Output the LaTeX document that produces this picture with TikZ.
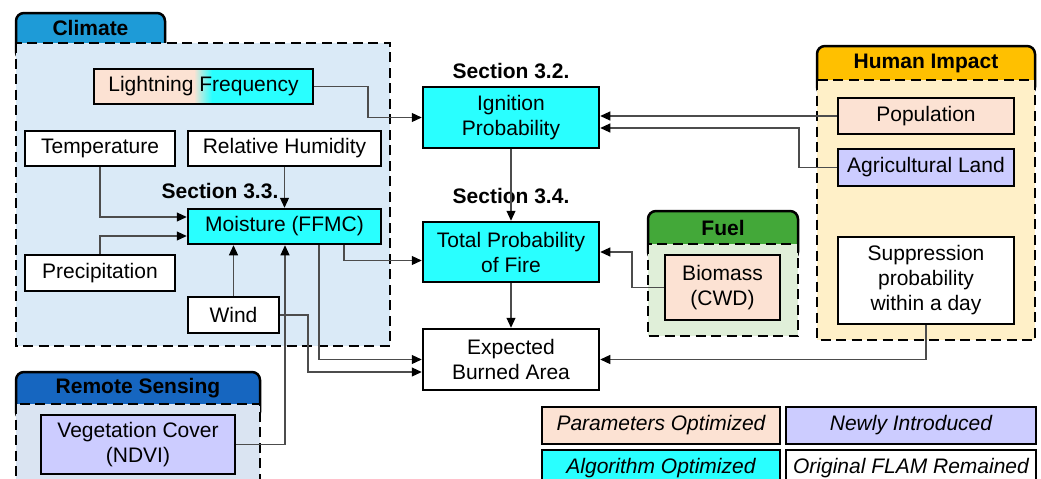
\documentclass[tikz,border=0pt]{standalone}
\usepackage{fontspec}
\setmainfont{Liberation Sans}
\usetikzlibrary{arrows.meta}
\definecolor{peach}{RGB}{252,226,211}
\definecolor{lav}{RGB}{204,204,255}
\definecolor{cyanb}{RGB}{41,255,255}
\definecolor{climtab}{RGB}{30,155,215}
\definecolor{climbody}{RGB}{218,234,247}
\definecolor{remtab}{RGB}{22,102,192}
\definecolor{rembody}{RGB}{218,228,242}
\definecolor{fueltab}{RGB}{67,168,57}
\definecolor{fuelbody}{RGB}{224,239,217}
\definecolor{humtab}{RGB}{255,192,0}
\definecolor{humbody}{RGB}{255,240,200}
\newcommand\boxfont{\fontsize{21}{25}\selectfont}
\begin{document}
\begin{tikzpicture}[x=1pt,y=-1pt,
  box/.style={draw=black, line width=2.5pt, inner sep=0pt, align=center, font=\boxfont},
  conn/.style={draw=black!70, line width=1.1pt, -{Triangle[length=10pt,width=9pt,color=black]}},
  sec/.style={font=\boxfont\bfseries, inner sep=0pt},
  grp/.style={draw=black, dash pattern=on 10pt off 5.5pt, line width=2.5pt},
  tabbox/.style={draw=black, line width=2.5pt, rounded corners=8pt},
  ttl/.style={font=\boxfont\bfseries, inner sep=0pt},
  leg/.style={box, font=\boxfont\itshape}]
\useasboundingbox (0,0) rectangle (1041,479);
% groups
\path[tabbox, fill=climtab] (16,13) rectangle (165,60);
\path[grp, fill=climbody] (16,43) rectangle (390,346);
\node[ttl] (tclim) at (90.5,28) {Climate};
\path[tabbox, fill=remtab] (16,372) rectangle (260,420);
\path[grp, fill=rembody] (16,404) rectangle (260,500);
\node[ttl] (trem) at (138,388.5) {Remote Sensing};
\path[tabbox, fill=fueltab] (648,211) rectangle (798,260);
\path[grp, fill=fuelbody] (648,244) rectangle (798,336);
\node[ttl] (tfuel) at (723,227.5) {Fuel};
\path[tabbox, fill=humtab] (817,46) rectangle (1035,95);
\path[grp, fill=humbody] (817,80) rectangle (1035,340);
\node[ttl] (thum) at (926,63) {Human Impact};
% lightning gradient
\fill[peach] (94,69) rectangle (194,104);
\shade[left color=peach, right color=cyanb] (194,69) rectangle (212,104);
\fill[cyanb] (212,69) rectangle (313,104);
% nodes
\node[box, minimum width=219pt, minimum height=35pt] (light) at (203.5,86.5) {Lightning Frequency};
\node[box, fill=white, minimum width=150pt, minimum height=35pt] (temp) at (100,148.5) {Temperature};
\node[box, fill=white, minimum width=193pt, minimum height=35pt] (rh) at (284.5,148.5) {Relative Humidity};
\node[box, fill=cyanb, minimum width=193pt, minimum height=35pt] (moist) at (284.5,226.5) {Moisture (FFMC)};
\node[box, fill=white, minimum width=150pt, minimum height=36pt] (precip) at (100,273) {Precipitation};
\node[box, fill=white, minimum width=91pt, minimum height=36pt] (wind) at (233.5,315) {Wind};
\node[box, fill=lav, minimum width=194pt, minimum height=59pt] (veg) at (138,444.5) {Vegetation Cover\\(NDVI)};
\node[sec] (s33) at (220,191) {Section 3.3.};
\node[sec] (s32) at (511,71) {Section 3.2.};
\node[sec] (s34) at (511,196) {Section 3.4.};
\node[box, fill=cyanb, minimum width=176pt, minimum height=61pt] (ign) at (511,117.5) {Ignition\\Probability};
\node[box, fill=cyanb, minimum width=176pt, minimum height=60pt] (total) at (511,252) {Total Probability\\of Fire};
\node[box, fill=white, minimum width=176pt, minimum height=61pt] (eba) at (511,359.5) {Expected\\Burned Area};
\node[box, fill=peach, minimum width=115pt, minimum height=65pt] (bio) at (722.5,287.5) {Biomass\\(CWD)};
\node[box, fill=peach, minimum width=176pt, minimum height=36pt] (pop) at (926,116) {Population};
\node[box, fill=lav, minimum width=176pt, minimum height=37pt] (agri) at (926,167.5) {Agricultural Land};
\node[box, fill=white, minimum width=176pt, minimum height=87pt] (supp) at (926,280.5) {Suppression\\probability\\within a day};
% legend
\node[leg, fill=peach, minimum width=238pt, minimum height=37pt] (lpar) at (661,425.5) {Parameters Optimized};
\node[leg, fill=lav, minimum width=250pt, minimum height=37pt] (lnew) at (911,425.5) {Newly Introduced};
\node[leg, fill=cyanb, minimum width=238pt, minimum height=36pt] (lalg) at (661,468) {Algorithm Optimized};
\node[leg, fill=white, minimum width=250pt, minimum height=36pt] (lorig) at (911,468) {Original FLAM Remained};
% helper coordinates
\coordinate (x368) at (368,0);
\coordinate (x285) at (285,0);
\coordinate (x319) at (319,0);
\coordinate (x308) at (308,0);
\coordinate (x344) at (344,0);
\coordinate (x799) at (799,0);
\coordinate (x632) at (632,0);
\coordinate (m1) at ([yshift=9.5pt]moist.west);
\coordinate (m2) at ([yshift=-9.5pt]moist.west);
\coordinate (e2) at ([yshift=-12.5pt]eba.west);
\coordinate (t2) at ([yshift=-8.5pt]total.west);
\coordinate (ig2) at ([yshift=-10.5pt]ign.east);
% connectors
\draw[conn] (light.east) -| (ign.west -| x368) -- (ign.west);
\draw[conn] (temp.south) |- (m1);
\draw[conn] (precip.north) |- (m2);
\draw[conn] (rh.south) -- (moist.north);
\draw[conn] (wind.north) -- (wind.north |- moist.south);
\draw[conn] (veg.east) -| (x285 |- moist.south);
\draw[conn] (moist.south -| x319) |- (eba.west);
\draw[conn] (wind.east) -| (x308 |- e2) -- (e2);
\draw[conn] (moist.south -| x344) |- (t2);
\draw[conn] (ign.south) -- (total.north);
\draw[conn] (total.south) -- (eba.north);
\draw[conn] (pop.west) -- (pop.west -| ign.east);
\draw[conn] (agri.west) -| (ig2 -| x799) -- (ig2);
\draw[conn] (bio.west) -| (total.east -| x632) -- (total.east);
\draw[conn] (supp.south) |- (eba.east);
\end{tikzpicture}
\end{document}
